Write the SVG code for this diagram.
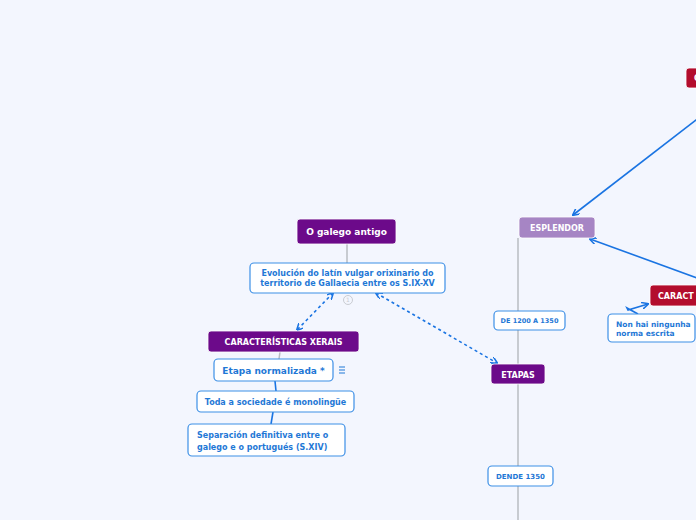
<svg xmlns="http://www.w3.org/2000/svg" width="696" height="520" viewBox="0 0 696 520">
<defs>
<style>
.bg{fill:#f3f6fe}
.pur{fill:#6c0a8a;stroke:#ffffff;stroke-width:0.8}
.lpur{fill:#a685c4;stroke:#ffffff;stroke-width:0.8}
.red{fill:#b30d2d;stroke:#ffffff;stroke-width:0.8}
.wht{fill:#ffffff;stroke:#3d8fe6;stroke-width:1.2}
.tw{fill:#ffffff;font-family:"DejaVu Sans",Verdana,sans-serif;font-weight:bold;text-anchor:middle}
.st{text-anchor:start}
.tb{fill:#1f78d6;font-family:"DejaVu Sans",Verdana,sans-serif;font-weight:bold}
.mid{text-anchor:middle}
.gray{stroke:#b9bcc2;stroke-width:1.5;fill:none}
.blue{stroke:#1a74e2;stroke-width:1.6;fill:none}
.dash{stroke:#1a74e2;stroke-width:1.6;fill:none;stroke-dasharray:3 3}
</style>
<marker id="ah" viewBox="0 0 10 10" refX="9" refY="5" markerWidth="7" markerHeight="7" orient="auto-start-reverse" markerUnits="userSpaceOnUse">
<path d="M0,0 L10,5 L0,10" fill="none" stroke="#1a74e2" stroke-width="2.2"/>
</marker>
</defs>
<rect class="bg" x="0" y="0" width="696" height="520"/>
<g id="connectors">
<line class="gray" x1="347" y1="244" x2="347" y2="263"/>
<line class="gray" x1="280" y1="352" x2="279" y2="359"/>
<line class="blue" x1="275" y1="381" x2="276" y2="391"/>
<line class="blue" x1="273" y1="412" x2="271" y2="424"/>
<line class="gray" x1="518" y1="238" x2="518" y2="520"/>
<line class="dash" x1="333" y1="293" x2="297" y2="330" marker-start="url(#ah)" marker-end="url(#ah)"/>
<line class="dash" x1="376" y1="293" x2="497" y2="363" marker-start="url(#ah)" marker-end="url(#ah)"/>
<line class="blue" x1="700" y1="117" x2="573" y2="215" marker-end="url(#ah)"/>
<line class="blue" x1="700" y1="279" x2="590" y2="239" marker-end="url(#ah)"/>
<path class="blue" d="M638,314 L627,308 L628,310 L648,304" marker-end="url(#ah)"/>
</g>
<g id="n-galego">
<rect class="pur" x="297" y="219" width="99" height="25" rx="3"/>
<text class="tw" x="346.5" y="235" font-size="9">O galego antigo</text>
</g>
<g id="n-evolucion">
<rect class="wht" x="250" y="263" width="195" height="30" rx="4"/>
<text class="tb mid" x="347.5" y="276.3" font-size="8">Evolución do latín vulgar orixinario do</text>
<text class="tb mid" x="347.5" y="285.7" font-size="8">territorio de Gallaecia entre os S.IX-XV</text>
</g>
<g id="n-badge">
<circle cx="348" cy="300" r="4.5" fill="none" stroke="#c9ccd2" stroke-width="1"/>
<text x="348" y="302.3" font-size="6" fill="#c9ccd2" text-anchor="middle" font-family="DejaVu Sans,sans-serif">1</text>
</g>
<g id="n-caract-xerais">
<rect class="pur" x="208" y="331" width="151" height="21" rx="3"/>
<text class="tw" x="283.5" y="344.5" font-size="8">CARACTERÍSTICAS XERAIS</text>
</g>
<g id="n-etapa-norm">
<rect class="wht" x="214" y="359" width="119" height="22" rx="4"/>
<text class="tb mid" x="273.5" y="373.5" font-size="9">Etapa normalizada *</text>
<g stroke="#1f78d6" stroke-width="1">
<line x1="339" y1="367" x2="345" y2="367"/>
<line x1="339" y1="370" x2="345" y2="370"/>
<line x1="339" y1="373" x2="345" y2="373"/>
</g>
</g>
<g id="n-toda">
<rect class="wht" x="197" y="391" width="157" height="21" rx="4"/>
<text class="tb mid" x="275.5" y="404.8" font-size="8">Toda a sociedade é monolingüe</text>
</g>
<g id="n-separacion">
<rect class="wht" x="188" y="424" width="157" height="32" rx="4"/>
<text class="tb" x="197" y="438" font-size="8">Separación definitiva entre o</text>
<text class="tb" x="197" y="449.5" font-size="8">galego e o portugués (S.XIV)</text>
</g>
<g id="n-esplendor">
<rect class="lpur" x="519" y="217" width="76" height="21" rx="3"/>
<text class="tw" x="557" y="230.7" font-size="8">ESPLENDOR</text>
</g>
<g id="n-de1200">
<rect class="wht" x="494" y="311" width="71" height="19" rx="4"/>
<text class="tb mid" x="529.5" y="323.3" font-size="6.5">DE 1200 A 1350</text>
</g>
<g id="n-etapas">
<rect class="pur" x="491" y="364" width="54" height="20" rx="3"/>
<text class="tw" x="518" y="377.6" font-size="8">ETAPAS</text>
</g>
<g id="n-dende">
<rect class="wht" x="488" y="466" width="65" height="20" rx="4"/>
<text class="tb mid" x="520.5" y="478.8" font-size="7">DENDE 1350</text>
</g>
<g id="n-red-top">
<rect class="red" x="686" y="68" width="40" height="20" rx="3"/>
<text class="tw st" x="694" y="81" font-size="8">C</text>
</g>
<g id="n-caract">
<rect class="red" x="650" y="285" width="60" height="21" rx="3"/>
<text class="tw st" x="658" y="298.6" font-size="8">CARACT</text>
</g>
<g id="n-nonhai">
<rect class="wht" x="608" y="314" width="87" height="28" rx="4"/>
<text class="tb" x="616" y="327" font-size="7.5">Non hai ningunha</text>
<text class="tb" x="616" y="335.5" font-size="7.5">norma escrita</text>
</g>
</svg>
